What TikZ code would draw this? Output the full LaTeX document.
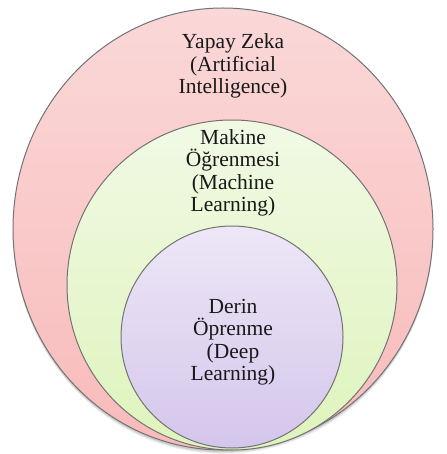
\documentclass[tikz,border=0pt]{standalone}
\usepackage{fontspec}
\setmainfont{Liberation Serif}
\usetikzlibrary{shapes.geometric}
\definecolor{aiTop}{RGB}{250,216,216}
\definecolor{aiBot}{RGB}{249,186,186}
\definecolor{mlTop}{RGB}{241,249,228}
\definecolor{mlBot}{RGB}{222,244,188}
\definecolor{dlTop}{RGB}{237,231,246}
\definecolor{dlBot}{RGB}{212,198,236}
\definecolor{rim}{RGB}{115,115,115}
\tikzset{
  ring/.style={draw=rim, line width=1pt, inner sep=0pt, shading=axis, shading angle=0},
  label/.style={align=center, font=\fontsize{21.5}{22.4}\selectfont, inner sep=0pt, text=black!90},
}
\begin{document}
\begin{tikzpicture}[x=1pt, y=-1pt]
  \useasboundingbox[fill=white] (0,0) rectangle (446,454);
  % soft shadow under the outer ring
  \foreach \o/\a in {4/0.05, 3/0.07, 2/0.09}{
    \fill[black, opacity=\a] (223,229+\o) ellipse [x radius=210pt, y radius=221pt];
  }
  \node[ring, ellipse, minimum width=420pt, minimum height=442pt, top color=aiTop, bottom color=aiBot] (ai) at (223,229) {};
  \node[ring, circle, minimum size=330pt, top color=mlTop, bottom color=mlBot] (ml) at (232,285) {};
  \node[ring, circle, minimum size=222pt, top color=dlTop, bottom color=dlBot] (dl) at (232,337) {};
  \node[label] (aitext) at (233,66) {Yapay Zeka\\(Artificial\\Intelligence)};
  \node[label] (mltext) at (233,173) {Makine\\Öğrenmesi\\(Machine\\Learning)};
  \node[label] (dltext) at (233,342) {Derin\\Öprenme\\(Deep\\Learning)};
\end{tikzpicture}
\end{document}
